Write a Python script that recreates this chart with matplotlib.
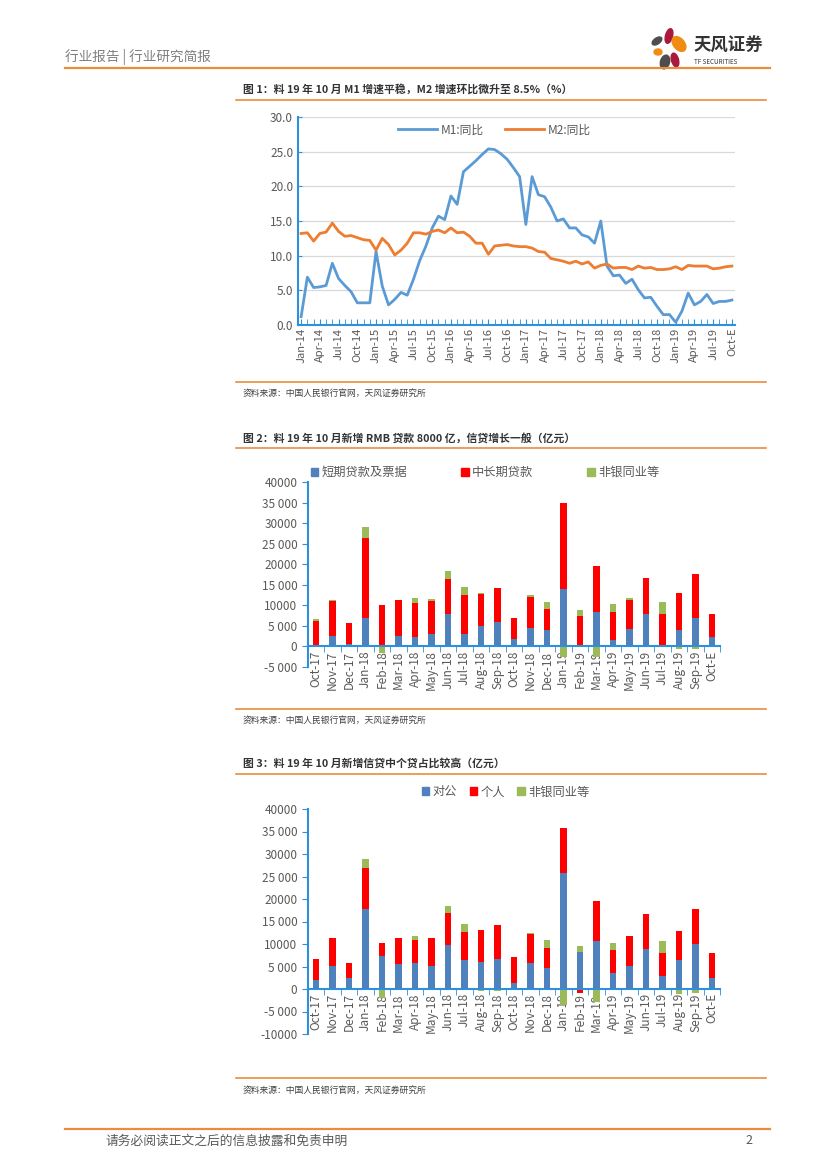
import numpy as np
import matplotlib
matplotlib.use("Agg")
import matplotlib.pyplot as plt
from matplotlib.patches import Ellipse, Patch
from matplotlib.lines import Line2D

plt.rcParams['font.family'] = ['Noto Sans CJK SC', 'DejaVu Sans']

W, H = 827, 1169

# ---------------- data ----------------
# chart 1: M1 / M2 yoy, Jan-14 .. Oct-19
m1 = [1.2, 6.9, 5.4, 5.5, 5.7, 8.9, 6.7, 5.7, 4.8, 3.2, 3.2, 3.2,
      10.6, 5.6, 2.9, 3.7, 4.7, 4.3, 6.6, 9.3, 11.4, 14.0, 15.7, 15.2,
      18.6, 17.4, 22.1, 22.9, 23.7, 24.6, 25.4, 25.3, 24.7, 23.9, 22.7, 21.4,
      14.5, 21.4, 18.8, 18.5, 17.0, 15.0, 15.3, 14.0, 14.0, 13.0, 12.7, 11.8,
      15.0, 8.5, 7.1, 7.2, 6.0, 6.6, 5.1, 3.9, 4.0, 2.7, 1.5, 1.5,
      0.4, 2.0, 4.6, 2.9, 3.4, 4.4, 3.1, 3.4, 3.4, 3.6]
m2 = [13.2, 13.3, 12.1, 13.2, 13.4, 14.7, 13.5, 12.8, 12.9, 12.6, 12.3, 12.2,
      10.8, 12.5, 11.6, 10.1, 10.8, 11.8, 13.3, 13.3, 13.1, 13.5, 13.7, 13.3,
      14.0, 13.3, 13.4, 12.8, 11.8, 11.8, 10.2, 11.4, 11.5, 11.6, 11.4, 11.3,
      11.3, 11.1, 10.6, 10.5, 9.6, 9.4, 9.2, 8.9, 9.2, 8.8, 9.1, 8.2,
      8.6, 8.8, 8.2, 8.3, 8.3, 8.0, 8.5, 8.2, 8.3, 8.0, 8.0, 8.1,
      8.4, 8.0, 8.6, 8.5, 8.5, 8.5, 8.1, 8.2, 8.4, 8.5]
m_ticklabels = []
for yy in range(14, 20):
    for mm in ['Jan', 'Apr', 'Jul', 'Oct']:
        m_ticklabels.append(f'{mm}-{yy}')
m_ticklabels[-1] = 'Oct-E'

# chart 2 / 3 categories
cats = ['Oct-17', 'Nov-17', 'Dec-17', 'Jan-18', 'Feb-18', 'Mar-18', 'Apr-18',
        'May-18', 'Jun-18', 'Jul-18', 'Aug-18', 'Sep-18', 'Oct-18', 'Nov-18',
        'Dec-18', 'Jan-19', 'Feb-19', 'Mar-19', 'Apr-19', 'May-19', 'Jun-19',
        'Jul-19', 'Aug-19', 'Sep-19', 'Oct-E']

short_term = [300, 2500, 500, 7000, 200, 2600, 2400, 3000, 7800, 3000, 4900, 5900, 1700,
              4400, 4100, 13900, 300, 8400, 1600, 4200, 8000, 100, 4100, 7000, 2200]
mid_long = [5900, 8600, 5100, 19400, 9800, 8600, 8200, 8000, 8700, 9500, 7900, 8200, 5300,
            7700, 5100, 21100, 7200, 11200, 6900, 7200, 8700, 7900, 8800, 10700, 5800]
nonbank2 = [400, 100, 200, 2600, -1600, 100, 1200, 500, 1900, 2000, 100, 100, 0,
            400, 1700, -2500, 1300, -2600, 1800, 400, 0, 2900, -700, -700, 0]

corporate = [2100, 5200, 2400, 17800, 7400, 5600, 5700, 5200, 9800, 6500, 6100, 6600, 1400,
             5700, 4700, 25800, 8300, 10700, 3500, 5200, 9000, 2900, 6500, 10000, 2500]
household = [4500, 6200, 3300, 9000, 2800, 5800, 5300, 6200, 7000, 6200, 7100, 7600, 5800,
             6600, 4500, 9900, -800, 8800, 5200, 6600, 7700, 5100, 6500, 7700, 5500]
nonbank3 = [100, 0, 100, 2200, -1900, 0, 800, 0, 1600, 1800, -500, -400, 0,
            200, 1700, -3500, 1300, -2800, 1500, 0, 0, 2600, -1100, -900, 0]

ORANGE = '#EB8C3C'
BLUE_L = '#5B9BD5'
ORG_L = '#ED7D31'
BAR_B = '#4F81BD'
BAR_R = '#FF0000'
BAR_G = '#9BBB59'
AXBLUE = '#2E8FDB'
TXT = '#595959'


def fx(x):
    return x / W


def fy(y):
    return 1 - y / H


def box(l, t, r, b):
    return [fx(l), fy(b), fx(r) - fx(l), (b - t) / H]


fig = plt.figure(figsize=(W / 100, H / 100), dpi=100)


def hline(y, x0, x1, lw=1.3, color=ORANGE):
    fig.add_artist(Line2D([fx(x0), fx(x1)], [fy(y), fy(y)], color=color, lw=lw))


# ---------------- page header / footer ----------------
fig.text(fx(65), fy(57), '行业报告 | 行业研究简报', fontsize=9.8, color='#7F7F7F', va='center')
hline(68, 65, 770, lw=1.6)

lg = fig.add_axes(box(645, 22, 695, 72))
lg.set_xlim(645, 695)
lg.set_ylim(72, 22)
lg.set_aspect('equal')
lg.axis('off')
petals = [(669, 36, 7, 15, 15, '#A8193D'), (679, 44, 11, 17, -40, '#F08C14'),
          (657, 41, 6, 11, 55, '#4D4D4D'), (658, 52, 8, 6, 0, '#F08C14'),
          (665, 62, 9, 14, 15, '#4D4D4D'), (675, 60, 7, 14, -15, '#A8193D')]
for px, py, w, h, a, c in petals:
    lg.add_patch(Ellipse((px, py), w, h, angle=a, color=c))
fig.text(fx(694), fy(46), '天风证券', fontsize=12.5, fontweight='bold', color='#333333', va='center')
fig.text(fx(694), fy(62), 'TF SECURITIES', fontsize=4.5, color='#333333', va='center')

hline(1129, 65, 770, lw=1.6)
fig.text(fx(105), fy(1141), '请务必阅读正文之后的信息披露和免责申明', fontsize=9.2, color='#595959', va='center')
fig.text(fx(752), fy(1141), '2', fontsize=9, color='#595959', va='center', ha='right')


def section(title, ty, ly, sy):
    fig.text(fx(243), fy(ty), title, fontsize=7.8, fontweight='bold', color='#333333', va='center')
    hline(ly, 236, 766, lw=1.2)
    fig.text(fx(243), fy(sy), '资料来源：中国人民银行官网，天风证券研究所', fontsize=6.3, color='#404040', va='center')


# ---------------- chart 1 ----------------
section('图 1：料 19 年 10 月 M1 增速平稳，M2 增速环比微升至 8.5%（%）', 89, 100, 393)
hline(382, 236, 766, lw=1.2)

ax1 = fig.add_axes(box(298, 117, 735, 325))
x = np.arange(len(m1))
ax1.plot(x, m1, color=BLUE_L, lw=2, label='M1:同比')
ax1.plot(x, m2, color=ORG_L, lw=2, label='M2:同比')
ax1.set_xlim(-0.5, len(m1) - 0.5)
ax1.set_ylim(0, 30)
ax1.set_yticks(np.arange(0, 30.1, 5))
ax1.set_yticklabels([f'{v:.1f}' for v in np.arange(0, 30.1, 5)])
ax1.set_xticks(np.arange(0, len(m1), 3))
ax1.set_xticklabels(m_ticklabels, rotation=90)
ax1.set_xticks(x, minor=True)
ax1.grid(axis='y', color='#D9D9D9', lw=0.9)
ax1.set_axisbelow(True)
for s in ['top', 'right']:
    ax1.spines[s].set_visible(False)
for s in ['left', 'bottom']:
    ax1.spines[s].set_color(AXBLUE)
    ax1.spines[s].set_linewidth(1.5)
ax1.tick_params(axis='y', colors=TXT, labelsize=8.5, length=3, color=AXBLUE, direction='in')
ax1.tick_params(axis='x', which='both', colors=TXT, labelsize=8, length=4, color=AXBLUE, direction='in')
ax1.tick_params(axis='x', which='major', pad=2)
ax1.legend(loc='upper center', bbox_to_anchor=(0.45, 1.02), ncol=2, frameon=False,
           fontsize=8.5, labelcolor=TXT, handlelength=3.3, columnspacing=1.8, handletextpad=0.3)


# ---------------- stacked bars helper ----------------
def stacked(ax, series, colors):
    n = len(series[0])
    pos = np.zeros(n)
    neg = np.zeros(n)
    xs = np.arange(n)
    ax.spines['bottom'].set_position(('data', 0))
    for vals, c in zip(series, colors):
        v = np.array(vals, dtype=float)
        bottom = np.where(v >= 0, pos, neg)
        ax.bar(xs, v, bottom=bottom, width=0.42, color=c, zorder=2)
        pos = pos + np.where(v >= 0, v, 0)
        neg = neg + np.where(v < 0, v, 0)
    ax.set_xlim(-0.5, n - 0.5)
    ax.set_xticks(xs)
    ax.set_xticklabels(cats)
    ax.set_xticks(np.arange(-0.5, n, 1), minor=True)
    for s in ['top', 'right']:
        ax.spines[s].set_visible(False)
    for s in ['left', 'bottom']:
        ax.spines[s].set_color(AXBLUE)
        ax.spines[s].set_linewidth(1.5)
        ax.spines[s].set_zorder(3)
    ax.tick_params(axis='x', which='major', length=0, colors=TXT, labelsize=8.5, pad=3,
                   labelrotation=90)
    ax.tick_params(axis='x', which='minor', length=4, color=AXBLUE, direction='out')
    ax.tick_params(axis='y', colors=TXT, labelsize=8.5, length=4, color=AXBLUE, direction='out')


def ylabels(v):
    if abs(v) >= 10000 and abs(v) < 40000 and v > 0 and v % 10000 != 0:
        return f'{int(v) // 1000} {int(v) % 1000:03d}'
    if v == 5000:
        return '5 000'
    if v == -5000:
        return '-5 000'
    return f'{int(v)}'


# ---------------- chart 2 ----------------
section('图 2：料 19 年 10 月新增 RMB 贷款 8000 亿，信贷增长一般（亿元）', 438, 448, 720)
hline(709, 236, 766, lw=1.2)
ax2 = fig.add_axes(box(307.75, 482, 720.25, 667))
stacked(ax2, [short_term, mid_long, nonbank2], [BAR_B, BAR_R, BAR_G])
ax2.set_ylim(-5000, 40000)
t2 = np.arange(-5000, 40001, 5000)
ax2.set_yticks(t2)
ax2.set_yticklabels([ylabels(v) for v in t2])
h2 = [Patch(color=BAR_B), Patch(color=BAR_R), Patch(color=BAR_G)]
ax2.legend(h2, ['短期贷款及票据', '中长期贷款', '非银同业等'], loc='center',
           bbox_to_anchor=(0.43, 1.05), ncol=3, frameon=False, fontsize=8.8, labelcolor=TXT,
           handlelength=0.6, handleheight=0.6, handletextpad=0.3, columnspacing=4.4)

# ---------------- chart 3 ----------------
section('图 3：料 19 年 10 月新增信贷中个贷占比较高（亿元）', 763, 774, 1090)
hline(1078, 236, 766, lw=1.2)
ax3 = fig.add_axes(box(307.75, 809, 720.25, 1034))
stacked(ax3, [corporate, household, nonbank3], [BAR_B, BAR_R, BAR_G])
ax3.set_ylim(-10000, 40000)
t3 = np.arange(-10000, 40001, 5000)
ax3.set_yticks(t3)
ax3.set_yticklabels([ylabels(v) for v in t3])
ax3.legend(h2, ['对公', '个人', '非银同业等'], loc='center',
           bbox_to_anchor=(0.48, 1.076), ncol=3, frameon=False, fontsize=8.8, labelcolor=TXT,
           handlelength=0.6, handleheight=0.6, handletextpad=0.3, columnspacing=1.0)

fig.savefig('out.png', dpi=100)
